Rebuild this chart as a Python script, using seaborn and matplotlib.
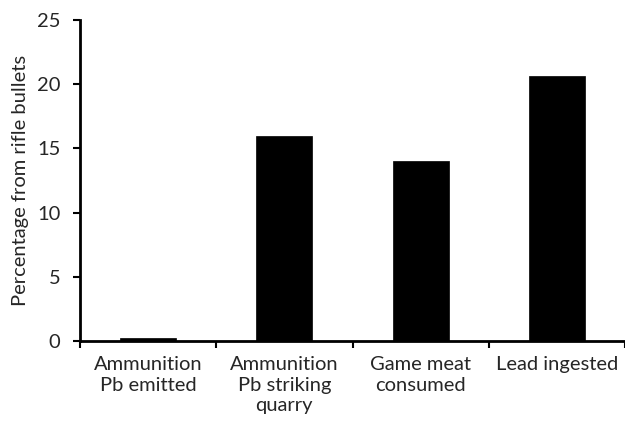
import matplotlib
matplotlib.use("Agg")
import matplotlib.pyplot as plt
import seaborn as sns
import pandas as pd

categories = ["Ammunition\nPb emitted", "Ammunition\nPb striking\nquarry", "Game meat\nconsumed", "Lead ingested"]
values = [0.2, 16.0, 14.0, 20.6]
y_ticks = [0, 5, 10, 15, 20, 25]

df = pd.DataFrame({"category": categories, "value": values})

sns.set_style("white")
plt.rcParams["font.family"] = ["Lato", "DejaVu Sans"]

FS = 14.5

fig = plt.figure(figsize=(6.25, 4.36), dpi=100)
ax = fig.add_axes([80 / 625, 95 / 436, 545 / 625, 321 / 436])

sns.barplot(data=df, x="category", y="value", color="black", width=0.41,
            saturation=1, edgecolor="black", linewidth=0.5, ax=ax)

ax.set_xlim(-0.5, 3.5)
ax.set_ylim(0, 25)
ax.set_yticks(y_ticks)
ax.set_yticklabels([str(t) for t in y_ticks], fontsize=FS)

n = len(categories)
ax.set_xticks([i + 0.5 for i in range(-1, n)])
ax.set_xticklabels([])
ax.set_xticks(list(range(n)), minor=True)
ax.set_xticklabels(categories, minor=True, fontsize=FS, linespacing=1.25, va="top")
ax.tick_params(axis="x", which="minor", length=0, pad=11)
ax.tick_params(axis="x", which="major", length=5, width=1.5, direction="out", color="black", bottom=True)
ax.tick_params(axis="y", length=5, width=1.5, direction="out", color="black", left=True, pad=9)

ax.set_xlabel("")
ax.set_ylabel("Percentage from rifle bullets", fontsize=FS, labelpad=6)

for s in ["top", "right"]:
    ax.spines[s].set_visible(False)
for s in ["left", "bottom"]:
    ax.spines[s].set_linewidth(2)
    ax.spines[s].set_color("black")

fig.savefig("out.png", dpi=100)
